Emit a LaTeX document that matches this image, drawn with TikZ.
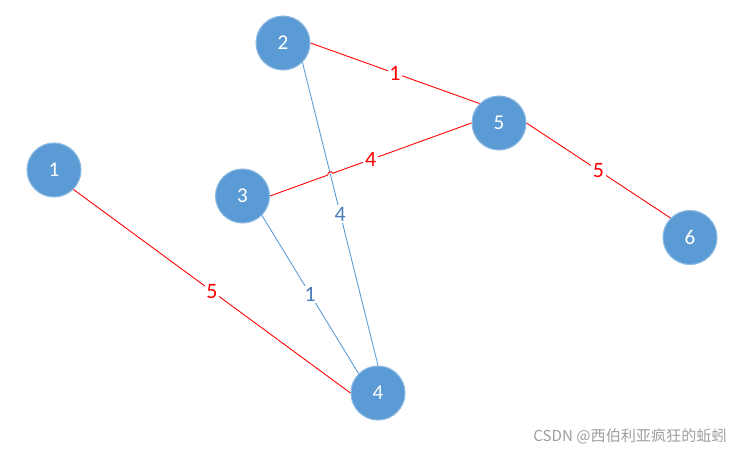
\documentclass[tikz,border=0pt]{standalone}
\usepackage{fontspec}
\newfontfamily\lblfont{Carlito}
\newfontfamily\cjkfont{Noto Sans CJK SC}
\usetikzlibrary{calc}
\definecolor{vblue}{HTML}{5B9BD5}
\definecolor{lblue}{HTML}{4A7EBB}
\definecolor{ered}{HTML}{FF0000}
\begin{document}
\begin{tikzpicture}[
  vertex/.style={circle, fill=vblue, draw=vblue!70, line width=0.6pt, minimum size=1.08cm, inner sep=0pt, text=white, font=\lblfont\fontsize{12}{12}\selectfont},
  redline/.style={draw=ered, line width=0.5pt},
  blueline/.style={draw=vblue, line width=0.5pt},
  redlbl/.style={fill=white, inner sep=1pt, text=ered, font=\lblfont\fontsize{12.5}{12.5}\selectfont},
  bluelbl/.style={fill=white, inner sep=1pt, text=lblue, font=\lblfont\fontsize{12.5}{12.5}\selectfont}]
\useasboundingbox (0,0) rectangle (14.82,-9.04);
\node[vertex] (v1) at (1.08,-3.40) {1};
\node[vertex] (v2) at (5.66,-0.86) {2};
\node[vertex] (v3) at (4.85,-3.92) {3};
\node[vertex] (v4) at (7.56,-7.86) {4};
\node[vertex] (v5) at (9.98,-2.46) {5};
\node[vertex] (v6) at (13.80,-4.75) {6};
% blue edges
\draw[blueline] (v2.south east) -- node[bluelbl] {4} (v4.north);
\draw[blueline] (v3.south east) -- node[bluelbl] {1} (v4.north west);
% red edges
\draw[redline] (v1.south east) -- node[redlbl] {5} (v4.west);
\draw[redline] (v2.east) -- node[redlbl] {1} (v5.north west);
\draw[redline] (v3.east) -- ($(v3.east)!0.2877!(v5.west)$)
  arc[start angle=199.82, end angle=19.82, radius=0.05] -- (v5.west);
\path (v3.east) -- node[redlbl] {4} (v5.west);
\draw[redline] (v5.east) -- node[redlbl] {5} (v6.north west);
% watermark
\node[anchor=east, text=black!38, inner sep=0pt, font=\cjkfont\fontsize{8.6}{8.6}\selectfont] (wm) at (14.54,-8.72) {CSDN @西伯利亚疯狂的蚯蚓};
\end{tikzpicture}
\end{document}
